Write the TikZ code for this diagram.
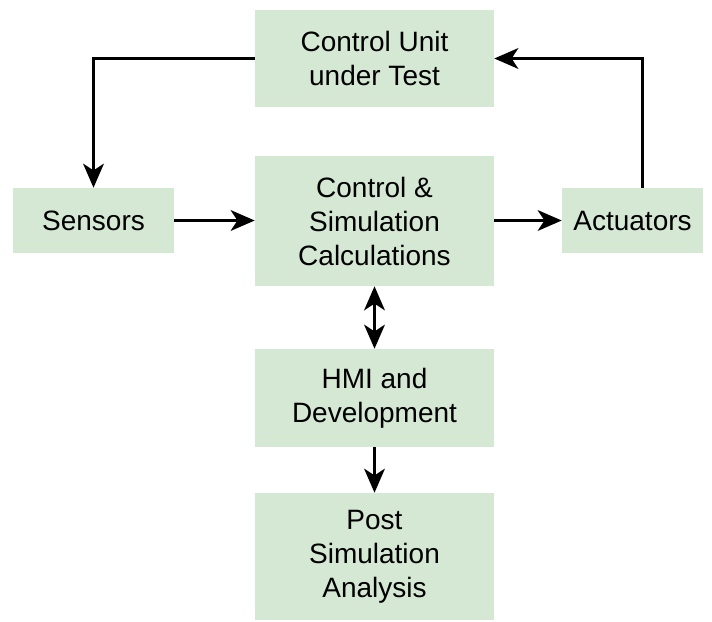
\documentclass[tikz,border=0pt]{standalone}
\usepackage{fontspec}
\setmainfont{Liberation Sans}
\usetikzlibrary{arrows.meta}
\definecolor{boxfill}{HTML}{D5E8D4}
\begin{document}
\begin{tikzpicture}[x=0.75pt,y=-0.75pt,
  box/.style={fill=boxfill, draw=none, align=center, inner sep=0pt,
    font=\fontsize{21}{25.5}\selectfont, text=black},
  tip/.style={Stealth[length=18pt,width=15.5pt,inset=5pt]},
  arr/.style={line width=2.25pt, -{Stealth[length=18pt,width=15.5pt,inset=5pt]}},
  darr/.style={line width=2.25pt, {Stealth[length=18pt,width=15.5pt,inset=5pt]}-{Stealth[length=18pt,width=15.5pt,inset=5pt]}}]
\useasboundingbox (0,0) rectangle (712,621);
\node[box, minimum width={239*0.75pt}, minimum height={97*0.75pt}] (cut) at (374.5,58.5) {Control Unit\\under Test};
\node[box, minimum width={161*0.75pt}, minimum height={65*0.75pt}] (sens) at (93.5,220.5) {Sensors};
\node[box, minimum width={239*0.75pt}, minimum height={130*0.75pt}] (csc) at (374.5,221) {Control \&\\Simulation\\Calculations};
\node[box, minimum width={141*0.75pt}, minimum height={65*0.75pt}] (act) at (632.5,220.5) {Actuators};
\node[box, minimum width={239*0.75pt}, minimum height={98*0.75pt}] (hmi) at (374.5,398) {HMI and\\Development};
\node[box, minimum width={239*0.75pt}, minimum height={127*0.75pt}] (post) at (374.5,556.5) {Post\\Simulation\\Analysis};
\draw[arr] (cut.west) -| (sens.north);
\draw[arr] (sens.east) -- (csc.west |- sens.east);
\draw[arr] (csc.east |- act.west) -- (act.west);
\draw[arr] ([xshift=7.5pt]act.north) |- (cut.east);
\draw[darr] (csc.south) -- (hmi.north);
\draw[arr] (hmi.south) -- (post.north);
\end{tikzpicture}
\end{document}
